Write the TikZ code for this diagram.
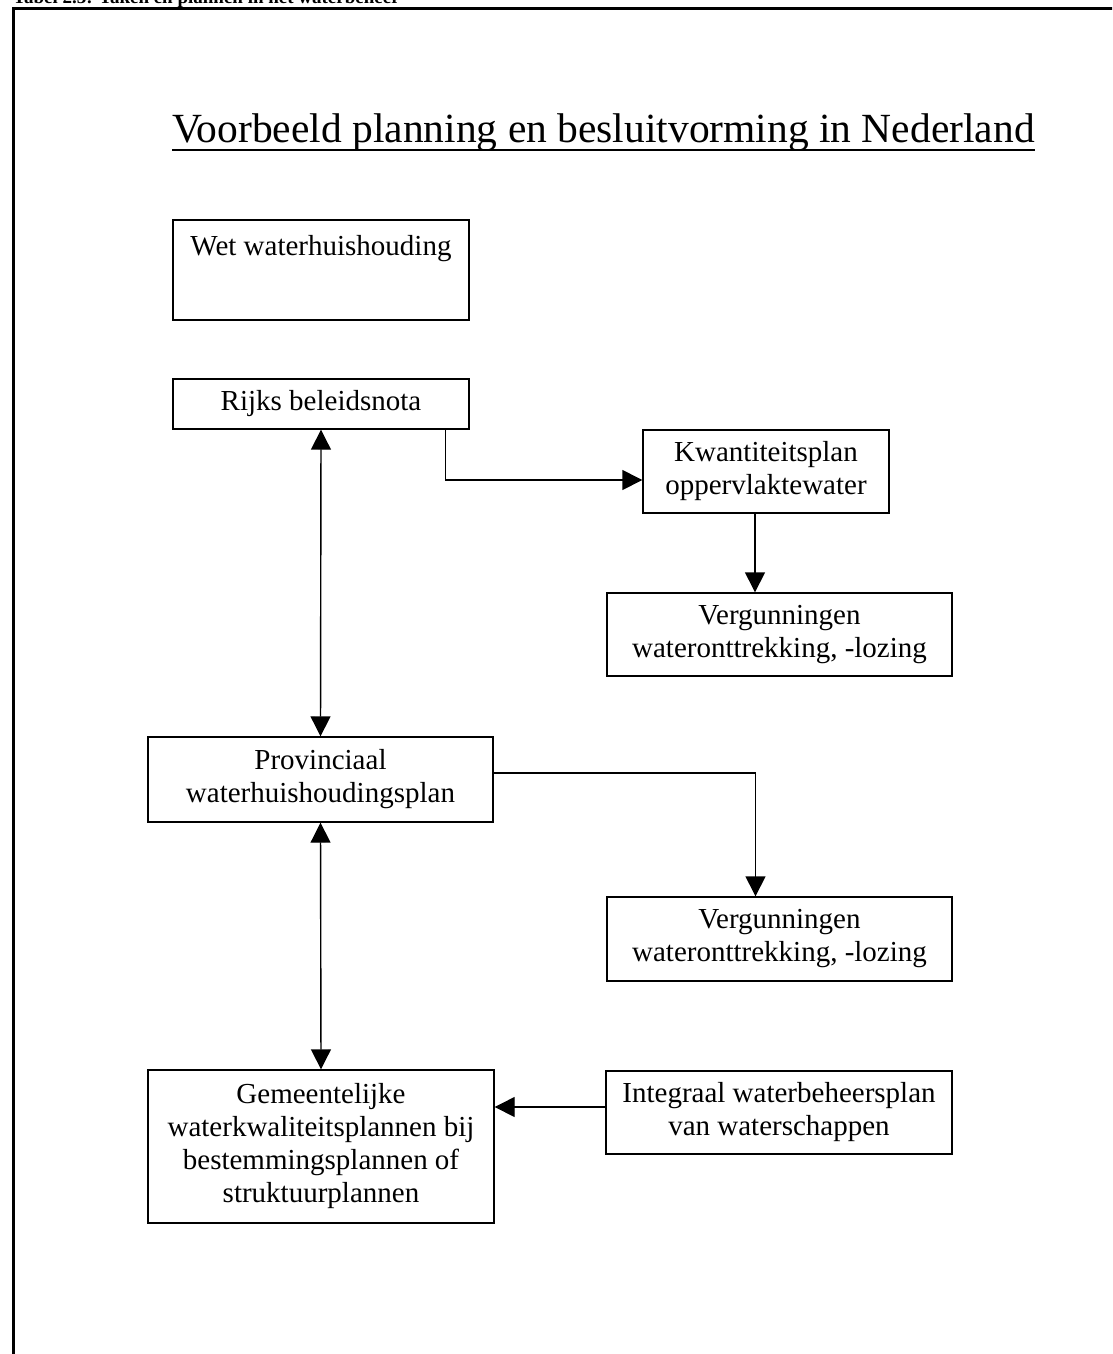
\documentclass[tikz,border=0pt]{standalone}
\usepackage{fontspec}
\setmainfont{Liberation Serif}
\usetikzlibrary{arrows.meta,calc}
\begin{document}
\begin{tikzpicture}[x=1pt,y=-1pt,
  box/.style={draw=black, line width=1.4pt, align=center, font=\fontsize{29}{33}\selectfont, inner sep=0pt},
  arr/.style={line width=1.4pt, -{Triangle[length=20pt,width=20pt]}},
  biarr/.style={line width=1.4pt, {Triangle[length=20pt,width=20pt]}-{Triangle[length=20pt,width=20pt]}}]
\useasboundingbox (0,0) rectangle (1112,1354);
\clip (0,0) rectangle (1112,1354);
\fill[white] (0,0) rectangle (1112,1354);
% outer frame (extends beyond the picture)
\draw[line width=3pt] (13.3,1370) |- (1130,8.7);
% caption (cut off at the top, as in the reference)
\node[anchor=base west, inner sep=0pt, font=\bfseries\fontsize{19}{22}\selectfont] (cap) at (13,4) {Tabel 2.3: Taken en plannen in het waterbeheer};
% title
\node[anchor=base west, inner sep=0pt, font=\fontsize{41.5}{48}\selectfont] (title) at (172,142) {Voorbeeld planning en besluitvorming in Nederland};
\draw[line width=1.4pt] ($(title.base west)+(0,8)$) -- ($(title.base east)+(0,8)$);
% boxes
\node[box, minimum width=296pt, text height=25pt, text depth=55pt, inner ysep=10pt] (wet) at (321,270) {Wet waterhuishouding};
\node[box, minimum width=296pt, minimum height=50pt] (rijks) at (321,404) {Rijks beleidsnota};
\node[box, minimum width=246pt, minimum height=83pt] (kwant) at (766,471.5) {Kwantiteitsplan\\oppervlaktewater};
\node[box, minimum width=345pt, minimum height=83pt] (verg1) at (779.5,634.5) {Vergunningen\\wateronttrekking, -lozing};
\node[box, minimum width=345pt, minimum height=85pt] (prov) at (320.5,779.5) {Provinciaal\\waterhuishoudingsplan};
\node[box, minimum width=345pt, minimum height=84pt] (verg2) at (779.5,939) {Vergunningen\\wateronttrekking, -lozing};
\node[box, minimum width=346pt, minimum height=153pt] (gem) at (321,1146.5) {Gemeentelijke\\waterkwaliteitsplannen bij\\bestemmingsplannen of\\struktuurplannen};
\node[box, minimum width=346pt, minimum height=83pt] (integ) at (779,1112.5) {Integraal waterbeheersplan\\van waterschappen};
% connectors
\draw[biarr] (rijks.south) -- (prov.north);
\draw[biarr] (prov.south) -- (gem.north);
\coordinate (r1) at ($(rijks.south east)+(-24,0)$);
\draw[arr] (r1) |- ($(kwant.west)+(0,8.5)$);
\coordinate (k1) at ($(kwant.south)+(-11,0)$);
\draw[arr] (k1) -- (k1 |- verg1.north);
\draw[arr] ($(prov.east)+(0,-6.5)$) -| ($(verg2.north)+(-24,0)$);
\draw[arr] ($(integ.west)+(0,-5.5)$) -- ($(gem.east)+(0,-39.5)$);
\end{tikzpicture}
\end{document}
